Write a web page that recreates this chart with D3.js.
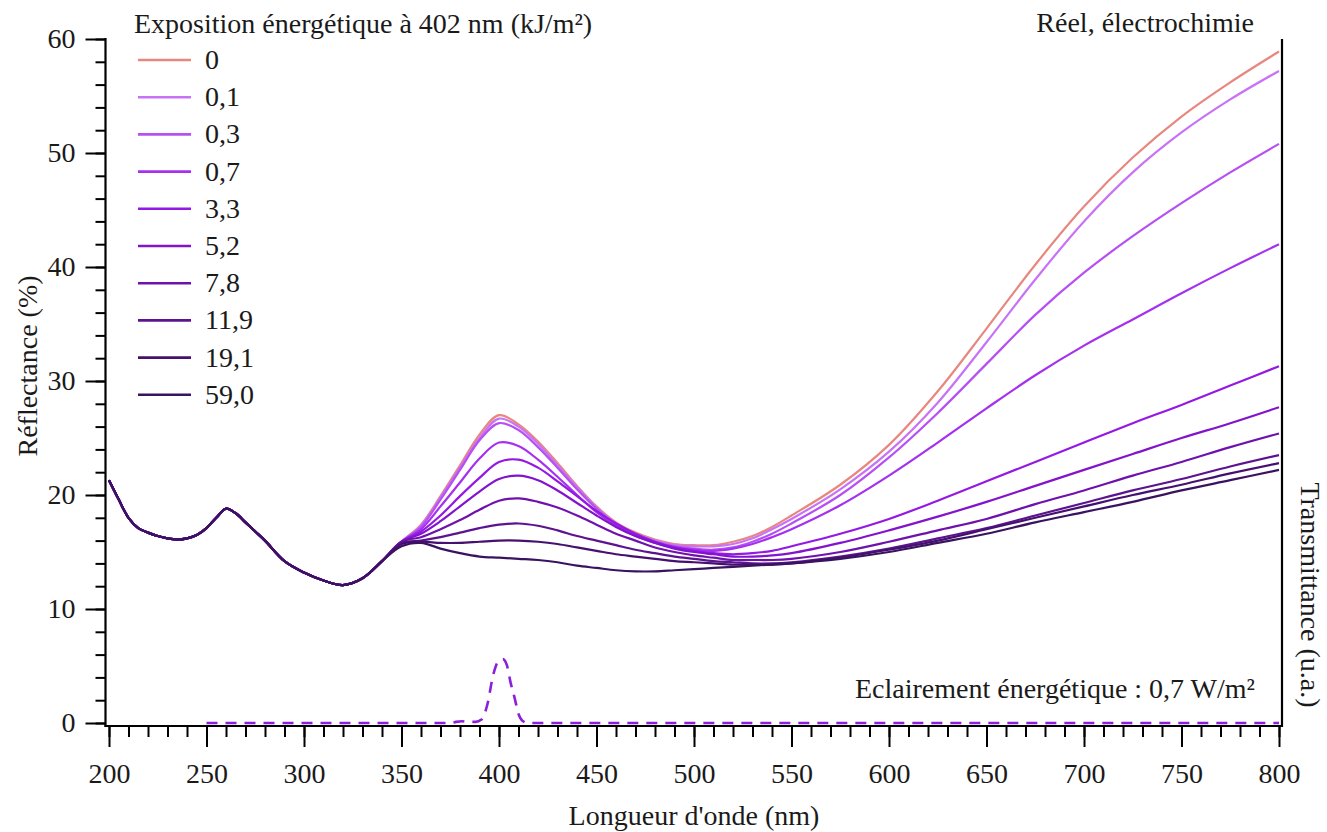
<!DOCTYPE html>
<html><head><meta charset="utf-8">
<script src="https://cdn.jsdelivr.net/npm/d3@7"></script>
<style>
body{margin:0;background:#fff}
svg{display:block}
text{font-family:"Liberation Serif","DejaVu Serif",serif;fill:#1a1a1a}
</style>
</head><body>
<svg id="c" width="1327" height="832"></svg>
<script>
// ---- data ----
const uvWavelengths = [200,205,210,215,220,225,230,235,240,245,250,255,260,265,270,275,280,290,300,310,320,330,340];
const uvReflectance = [21.3,19.6,18.0,17.1,16.7,16.4,16.2,16.1,16.2,16.5,17.1,18.0,18.8,18.4,17.6,16.8,16.0,14.2,13.2,12.5,12.1,12.7,14.2];

const visWavelengths = [340,350,360,370,380,390,400,410,420,430,440,450,460,470,480,490,500,510,520,530,540,550,575,600,625,650,675,700,725,750,775,800];

const seriesLabels = ["0","0,1","0,3","0,7","3,3","5,2","7,8","11,9","19,1","59,0"];
const seriesColors = ["#e8877f","#c872f6","#b650f2","#a530ef","#9519e4","#8314cc","#6f12ad","#5c1390","#461070","#3a1360"];

const r0_0  = [14.2,15.9,17.4,19.9,22.6,25.3,27.0,26.2,24.7,22.8,20.8,19.0,17.6,16.7,16.1,15.7,15.6,15.6,15.9,16.4,17.2,18.2,20.9,24.4,29.1,34.6,40.2,45.3,49.6,53.2,56.2,58.9];
const r0_1  = [14.2,15.9,17.3,19.8,22.4,25.0,26.7,26.0,24.5,22.6,20.7,18.9,17.5,16.6,16.0,15.6,15.5,15.5,15.7,16.2,17.0,17.9,20.5,23.8,28.1,33.4,38.9,44.0,48.3,51.8,54.7,57.2];
const r0_3  = [14.2,15.9,17.2,19.6,22.2,24.8,26.3,25.7,24.2,22.4,20.5,18.8,17.4,16.5,15.9,15.5,15.3,15.2,15.4,15.9,16.6,17.5,20.0,23.3,27.2,31.5,35.8,39.5,42.7,45.6,48.3,50.8];
const r0_7  = [14.2,15.9,17.0,19.0,21.1,23.2,24.6,24.3,23.1,21.6,20.0,18.5,17.3,16.4,15.8,15.4,15.2,15.1,15.3,15.7,16.3,17.0,19.1,21.7,24.6,27.6,30.5,33.1,35.4,37.7,39.9,42.0];
const r3_3  = [14.2,15.9,16.8,18.2,19.9,21.5,22.9,23.1,22.4,21.2,19.9,18.6,17.5,16.6,15.9,15.4,15.1,14.9,14.8,14.9,15.1,15.5,16.6,17.9,19.5,21.2,22.9,24.6,26.3,27.9,29.6,31.3];
const r5_2  = [14.2,15.9,16.6,17.7,19.0,20.3,21.4,21.7,21.3,20.4,19.3,18.2,17.2,16.4,15.8,15.3,15.0,14.8,14.6,14.6,14.7,14.9,15.8,16.9,18.1,19.4,20.8,22.2,23.6,25.0,26.3,27.7];
const r7_8  = [14.2,15.9,16.3,17.0,17.8,18.7,19.5,19.7,19.4,18.9,18.2,17.4,16.6,16.0,15.4,15.0,14.7,14.5,14.3,14.3,14.3,14.4,15.0,15.9,16.9,17.9,19.2,20.4,21.7,22.9,24.2,25.4];
const r11_9 = [14.2,15.8,16.0,16.3,16.7,17.1,17.4,17.5,17.3,16.9,16.4,16.0,15.6,15.2,14.9,14.6,14.4,14.2,14.1,14.0,14.0,14.1,14.6,15.3,16.2,17.1,18.2,19.3,20.4,21.4,22.5,23.5];
const r19_1 = [14.2,15.7,15.9,15.8,15.8,15.9,16.0,16.0,15.9,15.7,15.4,15.1,14.8,14.6,14.4,14.2,14.1,14.0,13.9,13.9,13.9,14.0,14.5,15.2,16.0,17.0,18.0,19.0,20.0,20.9,21.9,22.8];
const r59_0 = [14.3,15.5,15.8,15.3,14.9,14.6,14.5,14.4,14.3,14.1,13.8,13.6,13.4,13.3,13.3,13.4,13.5,13.6,13.7,13.8,13.9,14.0,14.4,15.0,15.8,16.6,17.6,18.5,19.4,20.4,21.3,22.2];
const seriesValues = [r0_0,r0_1,r0_3,r0_7,r3_3,r5_2,r7_8,r11_9,r19_1,r59_0];

const irrWavelengths = [250,375,378,381,384,388,391,394,397,400,402,404,406,408,410,412,415,800];
const irrValues      = [0,0,0.1,0.15,0.1,0.1,0.3,1.6,4.2,5.5,5.6,5.1,3.5,2.2,0.8,0.2,0,0];

const yMajorTicks = [0,10,20,30,40,50,60];
const xMajorTicks = [200,250,300,350,400,450,500,550,600,650,700,750,800];

// ---- drawing ----
const svg = d3.select("#c");
const FS = 28;
const x = d3.scaleLinear().domain([200,800]).range([109,1279]);
const y = d3.scaleLinear().domain([0,60]).range([723,39]);

const line = d3.line().x(d=>x(d[0])).y(d=>y(d[1])).curve(d3.curveCatmullRom.alpha(0.5));
const lineM = d3.line().x(d=>x(d[0])).y(d=>y(d[1])).curve(d3.curveMonotoneX);

// reflectance curves
seriesValues.forEach((vals,i)=>{
  const pts = uvWavelengths.map((w,j)=>[w,uvReflectance[j]]).concat(visWavelengths.slice(1).map((w,j)=>[w,vals[j+1]]));
  svg.append("path").attr("d",line(pts)).attr("fill","none")
    .attr("stroke",seriesColors[i]).attr("stroke-width",2.2).attr("stroke-linejoin","round");
});

// irradiance (dashed)
svg.append("path").attr("d",lineM(irrWavelengths.map((w,j)=>[w,irrValues[j]])))
  .attr("fill","none").attr("stroke","#8a1fdc").attr("stroke-width",2.6).attr("stroke-dasharray","11,8");

// axes
const yMinor = d3.range(0,61,2);
const gy = svg.append("g").attr("transform","translate(105.5,0)");
gy.call(d3.axisLeft(y).tickValues(yMinor).tickSize(10).tickFormat(""));
gy.call(g=>g.select(".domain").remove());
const gyM = svg.append("g").attr("transform","translate(105.5,0)");
gyM.call(d3.axisLeft(y).tickValues(yMajorTicks).tickSize(20).tickPadding(10).tickFormat(d3.format("d")));
gyM.call(g=>g.select(".domain").remove());
gyM.selectAll("text").attr("font-size",FS).attr("font-family",null).attr("fill","#1a1a1a");

const xMinor = d3.range(200,801,10);
const gx = svg.append("g").attr("transform","translate(0,726)");
gx.call(d3.axisBottom(x).tickValues(xMinor).tickSize(11).tickFormat(""));
gx.call(g=>g.select(".domain").remove());
const gxM = svg.append("g").attr("transform","translate(0,726)");
gxM.call(d3.axisBottom(x).tickValues(xMajorTicks).tickSize(21).tickFormat(d3.format("d")));
gxM.call(g=>g.select(".domain").remove());
gxM.selectAll("text").attr("font-size",FS).attr("font-family",null).attr("fill","#1a1a1a").attr("y",57).attr("dy",null);
svg.selectAll(".tick line").attr("stroke","#000").attr("stroke-width",2);

// frame lines
svg.append("line").attr("x1",105.5).attr("x2",105.5).attr("y1",38).attr("y2",727).attr("stroke","#000").attr("stroke-width",2.2);
svg.append("line").attr("x1",104.5).attr("x2",1283).attr("y1",726).attr("y2",726).attr("stroke","#000").attr("stroke-width",2.2);
svg.append("line").attr("x1",1282).attr("x2",1282).attr("y1",39).attr("y2",727).attr("stroke","#000").attr("stroke-width",2.2);

// titles
svg.append("text").attr("x",694).attr("y",825).attr("text-anchor","middle").attr("font-size",FS).text("Longueur d'onde (nm)");
svg.append("text").attr("transform","translate(37,366) rotate(-90)").attr("text-anchor","middle").attr("font-size",FS).text("Réflectance (%)");
svg.append("text").attr("transform","translate(1301,595) rotate(90)").attr("text-anchor","middle").attr("font-size",FS).text("Transmittance (u.a.)");
svg.append("text").attr("x",1254).attr("y",32).attr("text-anchor","end").attr("font-size",FS).text("Réel, électrochimie");
svg.append("text").attr("x",1255).attr("y",698).attr("text-anchor","end").attr("font-size",FS).text("Eclairement énergétique : 0,7 W/m²");

// legend
svg.append("text").attr("x",134).attr("y",33).attr("font-size",FS).text("Exposition énergétique à 402 nm (kJ/m²)");
const lg = svg.append("g");
seriesLabels.forEach((lab,i)=>{
  const cy = 60 + i*37.2;
  lg.append("line").attr("x1",138).attr("x2",191).attr("y1",cy).attr("y2",cy)
    .attr("stroke",seriesColors[i]).attr("stroke-width",2.6);
  lg.append("text").attr("x",205).attr("y",cy+9).attr("font-size",FS).text(lab);
});
</script>
</body></html>
